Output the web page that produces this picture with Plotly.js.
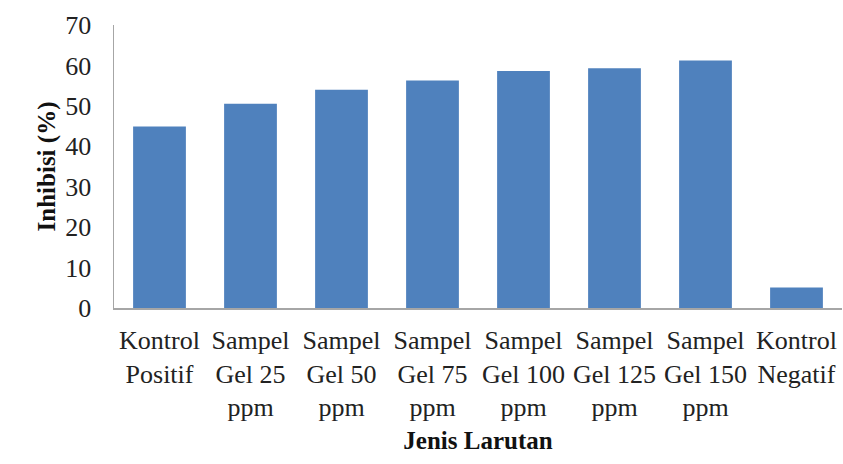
<!DOCTYPE html>
<html>
<head>
<meta charset="utf-8">
<script src="https://cdn.plot.ly/plotly-3.0.1.min.js"></script>
<style>
  html, body { margin: 0; padding: 0; background: #ffffff; }
  #chart { width: 843px; height: 464px; }
</style>
</head>
<body>
<div id="chart"></div>
<script>
const categories = [
  "Kontrol<br>Positif",
  "Sampel<br>Gel 25<br>ppm",
  "Sampel<br>Gel 50<br>ppm",
  "Sampel<br>Gel 75<br>ppm",
  "Sampel<br>Gel 100<br>ppm",
  "Sampel<br>Gel 125<br>ppm",
  "Sampel<br>Gel 150<br>ppm",
  "Kontrol<br>Negatif"
];
const inhibisi = [44.9, 50.5, 54.0, 56.3, 58.6, 59.3, 61.2, 5.1];
const yTicks = [0, 10, 20, 30, 40, 50, 60, 70];
const xTitle = "Jenis Larutan";
const yTitle = "Inhibisi (%)";

const serif = "'Liberation Serif', 'Times New Roman', serif";

const trace = {
  type: "bar",
  x: categories,
  y: inhibisi,
  marker: { color: "#4f81bd", line: { width: 0 } },
  hoverinfo: "x+y"
};

const layout = {
  width: 843,
  height: 464,
  margin: { l: 114, r: 1, t: 25, b: 156 },
  paper_bgcolor: "#ffffff",
  plot_bgcolor: "#ffffff",
  bargap: 0.42,
  showlegend: false,
  font: { family: serif, size: 26, color: "#222222" },
  xaxis: {
    type: "category",
    showgrid: false,
    zeroline: false,
    showline: true,
    linecolor: "#a6a6a6",
    linewidth: 1.5,
    ticks: "outside",
    ticklen: 8,
    tickcolor: "rgba(0,0,0,0)",
    tickfont: { family: serif, size: 26, color: "#222222" },
    tickangle: 0,
    title: { text: xTitle, font: { family: serif, size: 25, color: "#111111", weight: "bold" }, standoff: 10 }
  },
  yaxis: {
    range: [0, 70],
    tickvals: yTicks,
    ticktext: yTicks.map(String),
    showgrid: false,
    zeroline: false,
    showline: true,
    linecolor: "#a6a6a6",
    linewidth: 1.5,
    ticks: "outside",
    ticklen: 16,
    tickcolor: "rgba(0,0,0,0)",
    tickfont: { family: serif, size: 26, color: "#222222" },
    title: { text: yTitle, font: { family: serif, size: 25, color: "#111111", weight: "bold" }, standoff: 2 }
  }
};

Plotly.newPlot("chart", [trace], layout, { displayModeBar: false, staticPlot: true });
</script>
</body>
</html>
